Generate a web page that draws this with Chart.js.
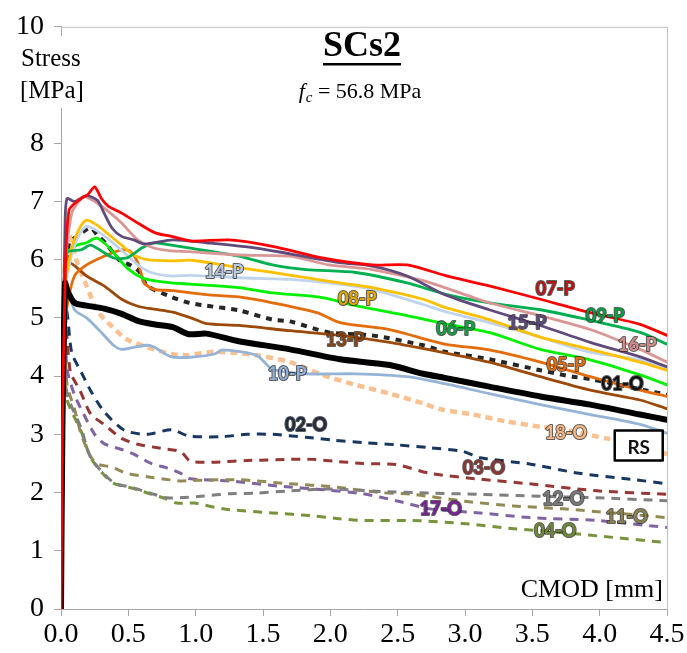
<!DOCTYPE html>
<html>
<head>
<meta charset="utf-8">
<script src="https://cdn.jsdelivr.net/npm/chart.js@4"></script>
<style>
  html, body { margin: 0; padding: 0; background: #ffffff; }
  #wrap { width: 687px; height: 653px; }
</style>
</head>
<body>
<div id="wrap"><canvas id="c" width="687" height="653"></canvas></div>
<script>
// Axis ticks
const xTicks = [0, 0.5, 1.0, 1.5, 2.0, 2.5, 3.0, 3.5, 4.0, 4.5];
const yTicks = [0, 1, 2, 3, 4, 5, 6, 7, 8, 9, 10];
const yTickLabels = ['0', '1', '2', '3', '4', '5', '6', '7', '8', '', '10'];

// Stress [MPa] vs CMOD [mm] curves, one list of [cmod, stress] pairs per specimen
const s07P = [[0,0],[0.01,3.0],[0.03,5.6],[0.06,6.85],[0.15,7.05],[0.2,7.12],[0.25,7.25],[0.3,7.05],[0.35,6.92],[0.45,6.8],[0.57,6.63],[0.7,6.46],[0.82,6.4],[0.97,6.32],[1.25,6.34],[1.57,6.23],[1.94,6.03],[2.31,5.91],[2.57,5.91],[2.85,5.73],[3.18,5.55],[3.56,5.32],[3.93,5.09],[4.3,4.89],[4.5,4.7]];
const s15P = [[0,0],[0.01,3.5],[0.03,6.6],[0.045,7.05],[0.1,7.0],[0.19,7.1],[0.27,7.02],[0.32,6.8],[0.38,6.54],[0.45,6.4],[0.54,6.34],[0.62,6.27],[0.83,6.34],[1.08,6.29],[1.45,6.2],[1.7,6.1],[2.07,5.95],[2.31,5.89],[2.57,5.72],[2.85,5.4],[3.18,5.14],[3.56,4.87],[3.93,4.58],[4.3,4.33],[4.5,4.16]];
const s16P = [[0,0],[0.01,3.2],[0.03,5.8],[0.08,6.8],[0.17,7.08],[0.25,7.0],[0.34,6.85],[0.45,6.63],[0.57,6.34],[0.69,6.2],[0.82,6.15],[0.95,6.14],[1.32,6.08],[1.7,6.06],[1.99,5.91],[2.31,5.83],[2.69,5.64],[2.85,5.52],[3.18,5.26],[3.56,5.04],[3.93,4.8],[4.3,4.46],[4.5,4.24]];
const s09P = [[0,0],[0.01,3.0],[0.03,5.6],[0.045,6.12],[0.15,6.17],[0.22,6.25],[0.3,6.15],[0.39,6.03],[0.49,6.03],[0.6,6.2],[0.69,6.29],[0.82,6.25],[0.96,6.2],[1.32,6.06],[1.57,5.91],[1.82,5.83],[2.19,5.78],[2.57,5.6],[2.85,5.41],[3.18,5.26],[3.56,5.14],[3.93,4.96],[4.3,4.75],[4.5,4.55]];
const s08P = [[0,0],[0.01,3.0],[0.03,5.5],[0.08,6.2],[0.14,6.55],[0.19,6.68],[0.27,6.59],[0.34,6.46],[0.45,6.25],[0.54,6.08],[0.64,6.0],[0.82,5.98],[0.97,5.99],[1.25,5.89],[1.57,5.78],[1.82,5.69],[2.07,5.6],[2.31,5.52],[2.69,5.32],[2.85,5.18],[3.18,4.97],[3.56,4.67],[3.93,4.46],[4.3,4.24],[4.5,4.1]];
const s14P = [[0,0],[0.01,3.0],[0.03,5.4],[0.08,6.1],[0.14,6.45],[0.19,6.57],[0.27,6.49],[0.37,6.32],[0.47,6.12],[0.57,5.91],[0.67,5.78],[0.82,5.72],[0.97,5.73],[1.32,5.69],[1.7,5.66],[1.99,5.6],[2.31,5.49],[2.69,5.23],[2.85,5.11],[3.18,4.92],[3.56,4.67],[3.93,4.41],[4.3,4.28],[4.5,4.12]];
const s06P = [[0,0],[0.01,3.0],[0.03,5.6],[0.045,6.12],[0.12,6.25],[0.19,6.29],[0.26,6.37],[0.32,6.29],[0.39,6.12],[0.49,5.86],[0.6,5.69],[0.69,5.64],[0.82,5.6],[0.96,5.58],[1.32,5.52],[1.57,5.43],[1.94,5.35],[2.19,5.21],[2.57,5.04],[2.85,4.9],[3.18,4.75],[3.56,4.46],[3.93,4.28],[4.3,4.02],[4.5,3.85]];
const s05P = [[0,0],[0.015,3.0],[0.04,5.1],[0.1,5.72],[0.19,5.91],[0.32,6.06],[0.45,6.17],[0.51,6.15],[0.57,5.95],[0.62,5.6],[0.69,5.49],[0.83,5.47],[1.08,5.4],[1.32,5.36],[1.57,5.26],[1.9,5.09],[2.07,4.92],[2.44,4.8],[2.85,4.55],[3.18,4.45],[3.56,4.24],[3.93,3.99],[4.3,3.76],[4.5,3.65]];
const s13P = [[0,0],[0.01,3.5],[0.03,5.6],[0.06,5.95],[0.19,5.72],[0.32,5.55],[0.45,5.32],[0.57,5.2],[0.69,5.15],[0.83,5.1],[0.99,4.98],[1.08,4.9],[1.32,4.87],[1.7,4.78],[2.07,4.7],[2.44,4.58],[2.85,4.4],[3.18,4.24],[3.56,3.99],[3.93,3.76],[4.3,3.59],[4.5,3.44]];
const s10P = [[0,0],[0.01,3.0],[0.03,5.2],[0.045,5.5],[0.1,5.14],[0.19,5.0],[0.3,4.75],[0.39,4.53],[0.45,4.46],[0.55,4.5],[0.64,4.53],[0.69,4.5],[0.82,4.33],[0.99,4.33],[1.14,4.38],[1.2,4.45],[1.45,4.36],[1.57,4.12],[1.82,4.04],[2.19,4.04],[2.57,3.99],[2.85,3.87],[3.18,3.7],[3.56,3.51],[3.93,3.34],[4.3,3.17],[4.5,3.02]];
const sRS = [[0,0],[0.01,3.0],[0.03,5.6],[0.05,5.45],[0.1,5.26],[0.19,5.21],[0.32,5.16],[0.45,5.07],[0.57,4.95],[0.69,4.89],[0.83,4.84],[0.95,4.72],[1.08,4.73],[1.32,4.6],[1.7,4.46],[2.07,4.29],[2.44,4.19],[2.69,4.04],[2.85,3.97],[3.18,3.82],[3.56,3.65],[3.93,3.51],[4.3,3.34],[4.5,3.25]];
const s01O = [[0,0],[0.01,3.0],[0.03,5.5],[0.06,6.29],[0.12,6.4],[0.22,6.55],[0.27,6.42],[0.33,6.29],[0.43,6.0],[0.52,5.9],[0.58,5.8],[0.64,5.55],[0.82,5.36],[0.95,5.26],[1.08,5.21],[1.32,5.13],[1.57,4.97],[1.7,4.94],[1.99,4.75],[2.31,4.7],[2.69,4.53],[2.85,4.42],[3.18,4.29],[3.56,4.1],[3.8,3.99],[3.93,3.95],[4.5,3.68]];
const s18O = [[0,0],[0.01,3.5],[0.03,6.0],[0.05,6.5],[0.12,5.95],[0.19,5.55],[0.27,5.12],[0.37,4.87],[0.49,4.63],[0.69,4.46],[0.82,4.38],[0.94,4.36],[1.14,4.42],[1.45,4.36],[1.7,4.24],[1.94,4.02],[2.19,3.85],[2.44,3.7],[2.69,3.53],[2.82,3.43],[3.06,3.34],[3.31,3.22],[3.56,3.13],[3.8,3.05],[4.05,2.93],[4.3,2.83],[4.5,2.66]];
const s02O = [[0,0],[0.01,3.0],[0.03,5.3],[0.05,5.0],[0.08,4.4],[0.15,4.07],[0.22,3.75],[0.32,3.39],[0.47,3.07],[0.64,3.0],[0.82,3.08],[0.95,2.97],[1.2,2.96],[1.38,3.0],[1.57,3.0],[1.82,2.95],[2.02,2.9],[2.24,2.86],[2.49,2.82],[2.74,2.77],[2.98,2.71],[3.11,2.6],[3.48,2.49],[3.85,2.33],[4.23,2.23],[4.5,2.15]];
const s03O = [[0,0],[0.01,3.0],[0.03,5.0],[0.07,4.07],[0.14,3.76],[0.22,3.35],[0.32,3.17],[0.45,2.93],[0.57,2.83],[0.74,2.76],[0.89,2.7],[0.96,2.54],[1.12,2.52],[1.38,2.55],[1.7,2.57],[1.87,2.57],[2.02,2.54],[2.24,2.5],[2.49,2.48],[2.74,2.33],[3.11,2.23],[3.48,2.15],[3.98,2.03],[4.5,1.97]];
const s12O = [[0,0],[0.01,3.0],[0.03,4.5],[0.045,3.7],[0.15,3.1],[0.22,2.6],[0.32,2.32],[0.4,2.16],[0.54,2.08],[0.66,1.99],[0.79,1.91],[0.88,1.91],[1.06,1.94],[1.25,1.98],[1.45,1.99],[1.7,2.03],[1.99,2.06],[2.37,2.02],[2.74,1.99],[3.11,1.97],[3.5,1.94],[3.98,1.91],[4.5,1.86]];
const s11O = [[0,0],[0.01,3.0],[0.03,4.6],[0.045,3.85],[0.1,3.44],[0.15,3.0],[0.22,2.62],[0.27,2.49],[0.37,2.44],[0.49,2.33],[0.64,2.27],[0.77,2.23],[0.89,2.2],[1.01,2.21],[1.32,2.22],[1.7,2.15],[2.02,2.1],[2.37,2.0],[2.61,1.97],[3.0,1.85],[3.36,1.77],[3.73,1.72],[4.1,1.65],[4.5,1.57]];
const s17O = [[0,0],[0.01,3.0],[0.03,4.8],[0.045,4.12],[0.1,3.68],[0.17,3.34],[0.25,3.0],[0.32,2.84],[0.45,2.74],[0.54,2.66],[0.67,2.5],[0.79,2.42],[0.89,2.33],[0.95,2.24],[1.25,2.2],[1.62,2.11],[1.99,2.04],[2.24,1.98],[2.49,1.86],[2.74,1.72],[3.11,1.65],[3.48,1.57],[3.98,1.52],[4.5,1.4]];
const s04O = [[0,0],[0.01,3.0],[0.03,4.4],[0.045,3.6],[0.15,3.05],[0.22,2.6],[0.32,2.3],[0.4,2.15],[0.54,2.07],[0.66,1.98],[0.77,1.9],[0.86,1.82],[0.99,1.82],[1.2,1.72],[1.57,1.65],[1.87,1.6],[2.07,1.55],[2.24,1.52],[2.61,1.52],[2.98,1.47],[3.36,1.38],[3.73,1.31],[4.1,1.23],[4.5,1.14]];

// Specimen names, in drawing order (first = on top)
const seriesNames = ['07-P','RS','15-P','16-P','09-P','08-P','14-P','06-P','05-P','13-P','10-P','01-O','18-O','02-O','03-O','12-O','11-O','17-O','04-O'];
const seriesData = {
  '07-P': s07P, '15-P': s15P, '16-P': s16P, '09-P': s09P, '08-P': s08P, '14-P': s14P,
  '06-P': s06P, '05-P': s05P, '13-P': s13P, '10-P': s10P, 'RS': sRS, '01-O': s01O,
  '18-O': s18O, '02-O': s02O, '03-O': s03O, '12-O': s12O, '11-O': s11O, '17-O': s17O, '04-O': s04O
};

// Line styles per specimen
const looks = {
  '07-P': { color: '#FF0000', width: 2.8 },
  '15-P': { color: '#604A7B', width: 2.8 },
  '16-P': { color: '#D99694', width: 2.8 },
  '09-P': { color: '#00B050', width: 2.8 },
  '08-P': { color: '#FFC000', width: 2.8 },
  '14-P': { color: '#BFD3EC', width: 2.8 },
  '06-P': { color: '#00F000', width: 2.8 },
  '05-P': { color: '#E46C0A', width: 2.8 },
  '13-P': { color: '#9C4A0A', width: 2.8 },
  '10-P': { color: '#95B3D7', width: 2.8 },
  'RS':   { color: '#000000', width: 6 },
  '01-O': { color: '#262626', width: 4, dash: [6, 6] },
  '18-O': { color: '#FAC090', width: 4.5, dash: [7, 5] },
  '02-O': { color: '#17375E', width: 3, dash: [9, 7] },
  '03-O': { color: '#953735', width: 3, dash: [9, 7] },
  '12-O': { color: '#7F7F7F', width: 3, dash: [9, 7] },
  '11-O': { color: '#948A54', width: 3, dash: [9, 7] },
  '17-O': { color: '#8064A2', width: 3, dash: [9, 7] },
  '04-O': { color: '#77933C', width: 3, dash: [9, 7] }
};

// Curve tags: text, [cmod, stress] anchor, text colour
const tagNames = ['07-P','09-P','08-P','06-P','15-P','16-P','13-P','05-P','01-O','10-P','14-P','18-O','02-O','03-O','12-O','17-O','11-O','04-O'];
const tagSpots = {
  '07-P': [3.67, 5.49], '09-P': [4.04, 5.03], '08-P': [2.2, 5.32], '06-P': [2.93, 4.8],
  '15-P': [3.46, 4.91], '16-P': [4.28, 4.53], '13-P': [2.11, 4.62], '05-P': [3.75, 4.19],
  '01-O': [4.17, 3.87], '10-P': [1.68, 4.04], '14-P': [1.21, 5.78], '18-O': [3.75, 3.02],
  '02-O': [1.82, 3.15], '03-O': [3.14, 2.42], '12-O': [3.73, 1.89], '17-O': [2.82, 1.72],
  '11-O': [4.2, 1.58], '04-O': [3.67, 1.33]
};
const tagInk = {
  '07-P': '#B81414', '09-P': '#00A040', '08-P': '#E0A800', '06-P': '#10A040',
  '15-P': '#5A4878', '16-P': '#D08C8A', '13-P': '#8C4410', '05-P': '#E46C0A',
  '01-O': '#111111', '10-P': '#90AED3', '14-P': '#B8CBE2', '18-O': '#F5B886',
  '02-O': '#1C2A3A', '03-O': '#8E3432', '12-O': '#7A7A7A', '17-O': '#7A1E9A',
  '11-O': '#8C8250', '04-O': '#6E8A36'
};
const rsSpot = [4.29, 2.81];

const serif = '"Liberation Serif", "Times New Roman", serif';
const sans = 'Lato, "Open Sans", sans-serif';

const datasets = seriesNames.map(name => {
  const lk = looks[name];
  return {
    label: name,
    data: seriesData[name].map(p => ({ x: p[0], y: p[1] })),
    borderColor: lk.color,
    borderWidth: lk.width,
    borderDash: lk.dash || [],
    borderCapStyle: lk.dash ? 'butt' : 'round',
    borderJoinStyle: 'round',
    pointRadius: 0,
    fill: false,
    tension: 0.25
  };
});

const decorations = {
  id: 'decorations',
  afterDatasetsDraw(chart) {
    const { ctx, chartArea, scales } = chart;
    const xs = scales.x, ys = scales.y;
    ctx.save();
    // top and right frame of the plot area
    ctx.strokeStyle = '#BFBFBF';
    ctx.lineWidth = 1;
    ctx.beginPath();
    ctx.moveTo(chartArea.left, chartArea.top + 0.5);
    ctx.lineTo(chartArea.right + 0.5, chartArea.top + 0.5);
    ctx.lineTo(chartArea.right + 0.5, chartArea.bottom);
    ctx.stroke();

    // curve tags
    ctx.font = 'bold 18px ' + sans;
    ctx.textAlign = 'center';
    ctx.textBaseline = 'middle';
    ctx.lineJoin = 'round';
    tagNames.forEach(t => {
      const px = xs.getPixelForValue(tagSpots[t][0]);
      const py = ys.getPixelForValue(tagSpots[t][1]);
      ctx.lineWidth = 2;
      ctx.strokeStyle = 'rgba(40,40,40,0.75)';
      ctx.strokeText(t, px, py);
      ctx.fillStyle = tagInk[t];
      ctx.fillText(t, px, py);
    });

    // reference-specimen box
    const bx = xs.getPixelForValue(rsSpot[0]);
    const by = ys.getPixelForValue(rsSpot[1]);
    ctx.fillStyle = '#ffffff';
    ctx.fillRect(bx - 24, by - 15, 48, 30);
    ctx.strokeStyle = '#000000';
    ctx.lineWidth = 2.5;
    ctx.strokeRect(bx - 24, by - 15, 48, 30);
    ctx.fillStyle = '#111111';
    ctx.font = 'bold 19px ' + sans;
    ctx.fillText('RS', bx, by + 2);
    ctx.restore();
  },
  afterDraw(chart) {
    const { ctx } = chart;
    ctx.save();
    // y-axis title block
    ctx.fillStyle = '#ffffff';
    ctx.fillRect(8, 36, 90, 72);
    ctx.fillStyle = '#000000';
    ctx.textAlign = 'left';
    ctx.textBaseline = 'middle';
    ctx.font = '25px ' + serif;
    ctx.fillText('Stress', 21, 59);
    ctx.fillText('[MPa]', 20, 91);

    // chart title
    ctx.textAlign = 'center';
    ctx.font = 'bold 36px ' + serif;
    ctx.fillText('SCs2', 362, 47);
    const tw = ctx.measureText('SCs2').width;
    ctx.fillRect(362 - tw / 2, 63, tw, 2.5);

    // concrete strength
    ctx.textAlign = 'left';
    ctx.font = 'italic 22px ' + serif;
    const wf = ctx.measureText('f').width;
    ctx.font = 'italic 15px ' + serif;
    const wc = ctx.measureText('c').width;
    ctx.font = '22px ' + serif;
    const rest = ' = 56.8 MPa';
    const wr = ctx.measureText(rest).width;
    let x0 = 360 - (wf + wc + 1 + wr) / 2;
    ctx.font = 'italic 22px ' + serif;
    ctx.fillText('f', x0, 92);
    ctx.font = 'italic 15px ' + serif;
    ctx.fillText('c', x0 + wf + 1, 98);
    ctx.font = '22px ' + serif;
    ctx.fillText(rest, x0 + wf + wc + 1, 92);

    // x-axis title
    ctx.textAlign = 'right';
    ctx.font = '26px ' + serif;
    ctx.fillText('CMOD [mm]', 663, 590);
    ctx.restore();
  }
};

new Chart(document.getElementById('c'), {
  type: 'line',
  data: { datasets },
  options: {
    responsive: false,
    animation: false,
    devicePixelRatio: 1,
    layout: { padding: { left: 0, right: 20, top: 22, bottom: 0 } },
    plugins: { legend: { display: false }, tooltip: { enabled: false }, title: { display: false } },
    scales: {
      x: {
        type: 'linear',
        min: 0,
        max: 4.5,
        afterBuildTicks: s => { s.ticks = xTicks.map(v => ({ value: v })); },
        afterFit: s => { s.height = 44; },
        ticks: {
          color: '#000000',
          font: { family: serif, size: 28 },
          padding: 2,
          maxRotation: 0,
          autoSkip: false,
          callback: v => Number(v).toFixed(1)
        },
        grid: { drawOnChartArea: false, drawTicks: true, tickLength: 7, color: '#A6A6A6' },
        border: { display: true, color: '#A6A6A6', width: 1 }
      },
      y: {
        type: 'linear',
        min: 0,
        max: 10,
        afterBuildTicks: s => { s.ticks = yTicks.map(v => ({ value: v })); },
        afterFit: s => { s.width = 61; },
        ticks: {
          color: '#000000',
          font: { family: serif, size: 28 },
          padding: 10,
          autoSkip: false,
          callback: (v, i) => yTickLabels[i]
        },
        grid: { drawOnChartArea: false, drawTicks: true, tickLength: 7, color: '#A6A6A6' },
        border: { display: true, color: '#A6A6A6', width: 1 }
      }
    }
  },
  plugins: [decorations]
});
</script>
</body>
</html>
